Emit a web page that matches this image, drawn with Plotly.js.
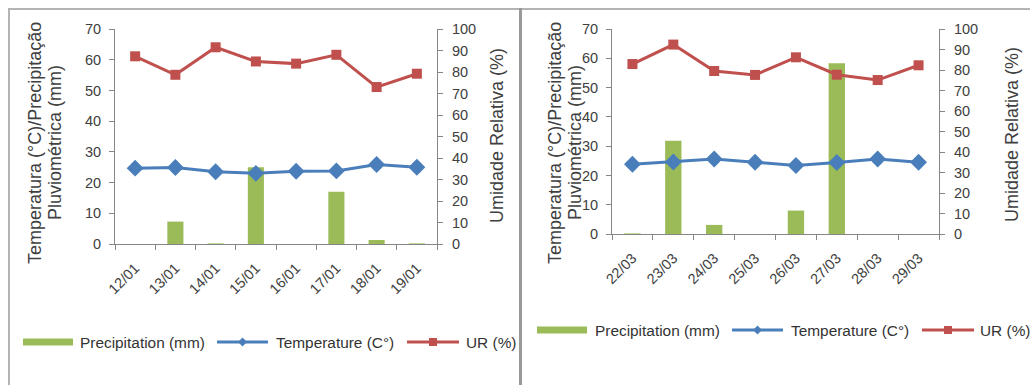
<!DOCTYPE html>
<html>
<head>
<meta charset="utf-8">
<script src="https://cdn.plot.ly/plotly-3.0.1.min.js"></script>
<style>
  html, body { margin: 0; padding: 0; background: #ffffff; }
  #wrap { position: relative; width: 1030px; height: 385px; overflow: hidden; background: #ffffff; }
  .panel { position: absolute; top: 0; height: 385px; }
  .rule { position: absolute; pointer-events: none; }
</style>
</head>
<body>
<div id="wrap">
  <div id="chartJan" class="panel" style="left:0;width:520px;"></div>
  <div id="chartMar" class="panel" style="left:520px;width:510px;"></div>
  <div class="rule" style="left:8px;top:8px;width:1022px;height:2px;background:#b3b3b3;"></div>
  <div class="rule" style="left:8px;top:8px;width:2px;height:377px;background:#b3b3b3;"></div>
  <div class="rule" style="left:519px;top:8px;width:3px;height:377px;background:#999999;"></div>
</div>
<script>
// Series names and axis titles
const seriesNames = ['Precipitation (mm)', 'Temperature (C°)', 'UR (%)'];
const leftTitleLines = ['Temperatura (°C)/Precipitação', 'Pluviométrica (mm)'];
const rightTitle = 'Umidade Relativa (%)';

// January week
const datesJan = ['12/01', '13/01', '14/01', '15/01', '16/01', '17/01', '18/01', '19/01'];
const precipJan = [0, 7.3, 0.2, 25.0, 0, 17.0, 1.3, 0.2];
const tempJan = [24.7, 24.9, 23.5, 23.0, 23.7, 23.8, 25.9, 25.0];
const urJan = [87.3, 78.7, 91.5, 84.9, 83.9, 88.0, 73.0, 79.2];

// March week
const datesMar = ['22/03', '23/03', '24/03', '25/03', '26/03', '27/03', '28/03', '29/03'];
const precipMar = [0.2, 31.8, 3.1, 0, 8.0, 58.3, 0, 0];
const tempMar = [23.8, 24.6, 25.6, 24.5, 23.4, 24.4, 25.6, 24.5];
const urMar = [82.9, 92.4, 79.5, 77.6, 86.2, 77.7, 75.1, 82.3];

// Axis tick values
const leftTicks = [0, 10, 20, 30, 40, 50, 60, 70];
const rightTicks = [0, 10, 20, 30, 40, 50, 60, 70, 80, 90, 100];

const GREEN = '#9bbb59';
const BLUE = '#4a7ebb';
const RED = '#c0504d';
const AXIS = '#868686';
const TXT = '#404040';
const FONT = 'Liberation Sans, Arial, sans-serif';

function drawChart(divId, dates, precip, temp, ur, box, legend) {
  const W = box.width, H = 385;
  const m = box.margin;
  const px = (x) => (x - m.l) / (W - m.l - m.r);
  const py = (y) => (H - m.b - y) / (H - m.t - m.b);

  const traces = [
    {
      type: 'bar', name: seriesNames[0], x: dates, y: precip, yaxis: 'y',
      marker: { color: GREEN, line: { width: 0 } }
    },
    {
      type: 'scatter', mode: 'lines+markers', name: seriesNames[1], x: dates, y: temp, yaxis: 'y',
      line: { color: BLUE, width: 3 },
      marker: { symbol: 'diamond', size: 13, color: BLUE }
    },
    {
      type: 'scatter', mode: 'lines+markers', name: seriesNames[2], x: dates, y: ur, yaxis: 'y2',
      line: { color: RED, width: 3 },
      marker: { symbol: 'square', size: 10, color: RED }
    }
  ];

  // Legend drawn as shapes and text below the plot
  const ly = py(legend.y);
  const half = 3.5 / (H - m.t - m.b);
  const shapes = [
    { type: 'rect', xref: 'paper', yref: 'paper', x0: px(legend.swatch[0]), x1: px(legend.swatch[1]),
      y0: ly - half, y1: ly + half, fillcolor: GREEN, line: { width: 0 } },
    { type: 'line', xref: 'paper', yref: 'paper', x0: px(legend.blue[0]), x1: px(legend.blue[1]),
      y0: ly, y1: ly, line: { color: BLUE, width: 3 } },
    { type: 'line', xref: 'paper', yref: 'paper', x0: px(legend.red[0]), x1: px(legend.red[1]),
      y0: ly, y1: ly, line: { color: RED, width: 3 } }
  ];
  const bc = (legend.blue[0] + legend.blue[1]) / 2;
  const rc = (legend.red[0] + legend.red[1]) / 2;
  const d = 4.5;
  shapes.push({
    type: 'path', xref: 'paper', yref: 'paper',
    path: 'M' + px(bc - d) + ',' + ly + ' L' + px(bc) + ',' + py(legend.y - d) +
          ' L' + px(bc + d) + ',' + ly + ' L' + px(bc) + ',' + py(legend.y + d) + ' Z',
    fillcolor: BLUE, line: { width: 0 }
  });
  shapes.push({
    type: 'rect', xref: 'paper', yref: 'paper', x0: px(rc - 4), x1: px(rc + 4),
    y0: py(legend.y + 4), y1: py(legend.y - 4), fillcolor: RED, line: { width: 0 }
  });

  const annotations = seriesNames.map((name, i) => ({
    xref: 'paper', yref: 'paper', x: px(legend.text[i]), y: ly,
    xanchor: 'left', yanchor: 'middle', showarrow: false, text: name,
    font: { family: FONT, size: 15.4, color: '#333333' }
  }));

  // Axis titles, rotated to read upwards
  const titleFont = { family: FONT, size: 18, color: TXT };
  leftTitleLines.forEach((line, i) => {
    annotations.push({
      xref: 'paper', yref: 'paper', x: px(box.leftTitleX[i]), y: py(box.leftTitleY),
      xanchor: 'center', yanchor: 'middle', textangle: -90, showarrow: false,
      text: line, font: titleFont
    });
  });
  annotations.push({
    xref: 'paper', yref: 'paper', x: px(box.rightTitleX), y: py(box.rightTitleY),
    xanchor: 'center', yanchor: 'middle', textangle: -90, showarrow: false,
    text: rightTitle, font: titleFont
  });

  const layout = {
    width: W, height: H,
    margin: m,
    paper_bgcolor: 'rgba(0,0,0,0)',
    plot_bgcolor: 'rgba(0,0,0,0)',
    showlegend: false,
    bargap: 0.6,
    font: { family: FONT, size: 14, color: TXT },
    xaxis: {
      type: 'category', range: [-0.5, dates.length - 0.5],
      showline: true, linecolor: AXIS, linewidth: 1,
      ticks: 'outside', tickson: 'boundaries', ticklen: 5, tickcolor: AXIS,
      tickangle: -45, ticklabelstandoff: 9,
      tickfont: { family: FONT, size: 14.5, color: TXT },
      showgrid: false, zeroline: false, fixedrange: true
    },
    yaxis: {
      range: [0, 70], tickvals: leftTicks, ticktext: leftTicks.map(String),
      showline: true, linecolor: AXIS, linewidth: 1,
      ticks: 'outside', ticklen: 5, tickcolor: AXIS, ticklabelstandoff: 5,
      tickfont: { family: FONT, size: 14.5, color: TXT },
      showgrid: false, zeroline: false
    },
    yaxis2: {
      overlaying: 'y', side: 'right',
      range: [0, 100], tickvals: rightTicks, ticktext: rightTicks.map(String),
      showline: true, linecolor: AXIS, linewidth: 1,
      ticks: 'outside', ticklen: 5, tickcolor: AXIS, ticklabelstandoff: 6,
      tickfont: { family: FONT, size: 14.5, color: TXT },
      showgrid: false, zeroline: false
    },
    shapes: shapes,
    annotations: annotations
  };

  Plotly.newPlot(divId, traces, layout, { staticPlot: true, displayModeBar: false });
}

drawChart('chartJan', datesJan, precipJan, tempJan, urJan,
  { width: 520, margin: { l: 115, r: 83, t: 29, b: 141 },
    leftTitleX: [35, 55], leftTitleY: 143, rightTitleX: 497, rightTitleY: 135 },
  { y: 342, swatch: [23, 73], blue: [217, 268], red: [407, 459], text: [78, 274, 464] });

drawChart('chartMar', datesMar, precipMar, tempMar, urMar,
  { width: 510, margin: { l: 92, r: 91, t: 29, b: 151 },
    leftTitleX: [35, 55], leftTitleY: 143, rightTitleX: 492, rightTitleY: 135 },
  { y: 330, swatch: [17, 67], blue: [212, 263], red: [402, 454], text: [73, 269, 458] });
</script>
</body>
</html>
